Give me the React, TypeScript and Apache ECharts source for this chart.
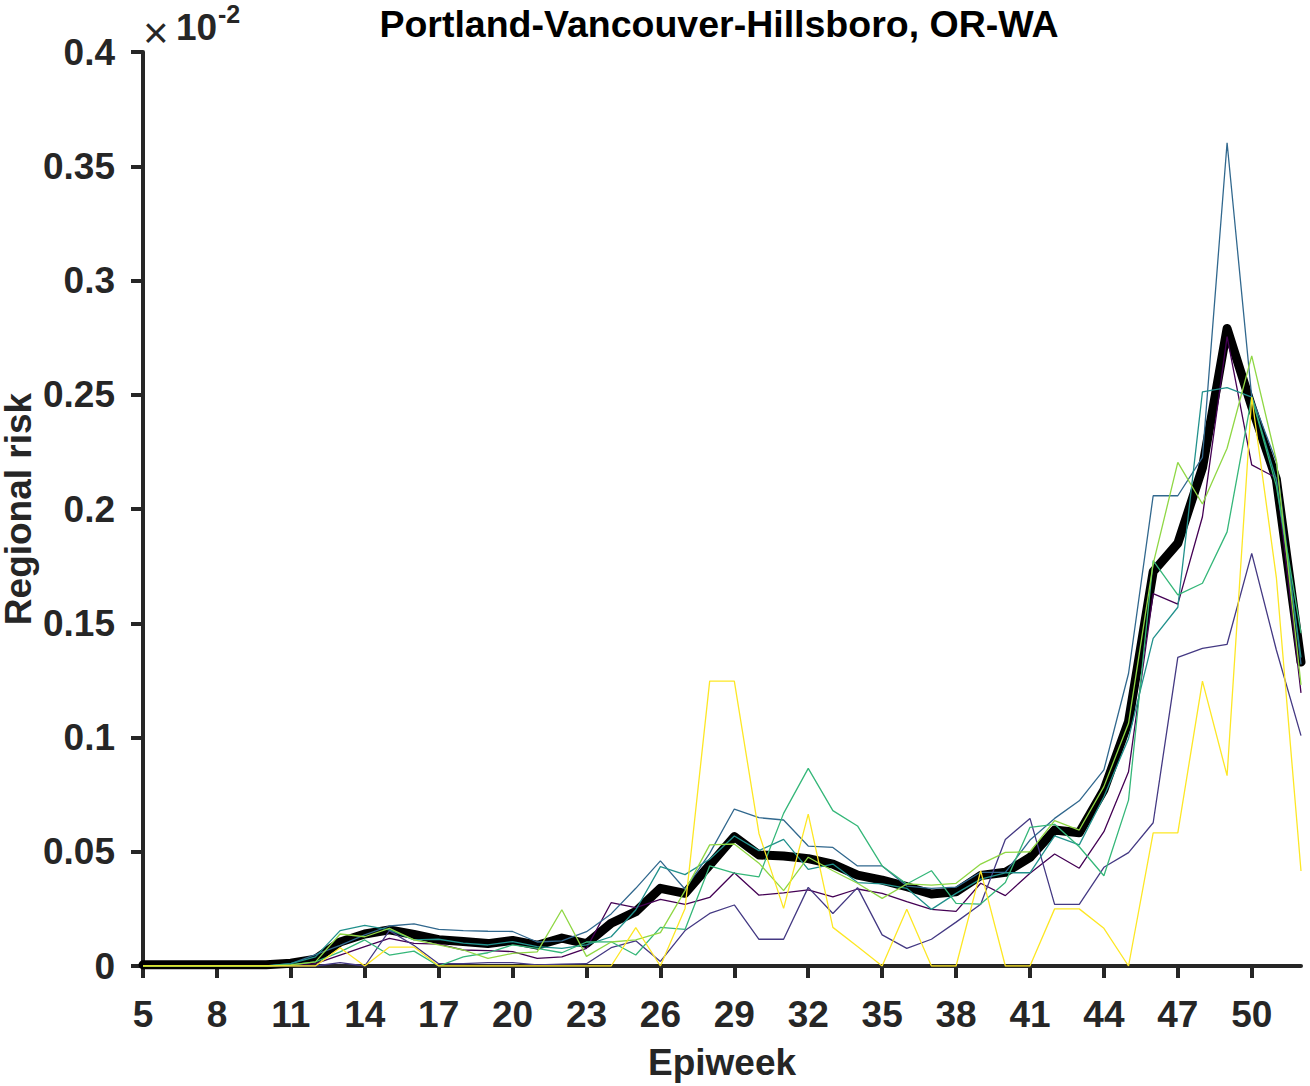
import React, { useEffect, useRef } from "react";
import * as echarts from "echarts";

const weeks: string[] = [];
for (let w = 5; w <= 52; w++) weeks.push(String(w));

const meanRisk = [
  0.0005, 0.0005, 0.0005, 0.0005, 0.0005, 0.0005, 0.0012, 0.003, 0.0105, 0.014,
  0.0158, 0.0138, 0.0115, 0.0107, 0.0098, 0.0112, 0.0091, 0.0122, 0.0098, 0.0187,
  0.0238, 0.034, 0.0318, 0.0442, 0.0566, 0.0486, 0.0481, 0.047, 0.0446, 0.0398,
  0.0376, 0.0347, 0.0315, 0.0325, 0.0396, 0.041, 0.0475, 0.0595, 0.0583, 0.077,
  0.107, 0.1726, 0.185, 0.218, 0.279, 0.2448, 0.213, 0.133,
];

const run1 = [
  0, 0, 0, 0, 0, 0, 0.0005, 0.001, 0.0048, 0.0085,
  0.0121, 0.0099, 0.0096, 0.007, 0.0067, 0.0063, 0.0033, 0.004, 0.0077, 0.0277,
  0.0255, 0.0292, 0.027, 0.03, 0.0408, 0.031, 0.032, 0.0333, 0.0303, 0.0337,
  0.0318, 0.0282, 0.0248, 0.0239, 0.0362, 0.0308, 0.0406, 0.049, 0.0428, 0.0588,
  0.085, 0.163, 0.1584, 0.1966, 0.2754, 0.2193, 0.2136, 0.1195,
];

const run2 = [
  0, 0, 0, 0, 0, 0, 0, 0, 0.0015, 0,
  0.0155, 0.009, 0.001, 0.001, 0.0015, 0.0015, 0.0005, 0.0008, 0.001, 0.008,
  0.011, 0.002, 0.0155, 0.023, 0.0267, 0.0117, 0.0117, 0.0344, 0.023, 0.0343,
  0.0136, 0.0077, 0.0117, 0.0192, 0.027, 0.0554, 0.0646, 0.027, 0.027, 0.0432,
  0.0496, 0.0627, 0.1351, 0.139, 0.1408, 0.1806, 0.1383, 0.1008,
];

const run3 = [
  0, 0, 0, 0, 0, 0, 0.001, 0.005, 0.009, 0.0136,
  0.0175, 0.0184, 0.016, 0.0155, 0.0152, 0.0151, 0.0105, 0.011, 0.015, 0.0228,
  0.034, 0.046, 0.0336, 0.0493, 0.0687, 0.0649, 0.0639, 0.0525, 0.0519, 0.0438,
  0.0438, 0.035, 0.034, 0.0345, 0.041, 0.041, 0.0551, 0.0646, 0.0723, 0.0858,
  0.128, 0.2058, 0.2058, 0.2226, 0.3603, 0.249, 0.2207, 0.132,
];

const run4 = [
  0, 0, 0, 0, 0, 0, 0.001, 0.004, 0.0155, 0.0178,
  0.0158, 0.0114, 0.0117, 0.01, 0.0092, 0.0107, 0.0085, 0.0077, 0.0092, 0.0128,
  0.0245, 0.0435, 0.04, 0.0467, 0.0569, 0.0505, 0.0554, 0.0423, 0.0446, 0.0365,
  0.0359, 0.034, 0.0248, 0.0318, 0.038, 0.0408, 0.0408, 0.0569, 0.053, 0.0741,
  0.0996, 0.1434, 0.157, 0.2513, 0.2531, 0.249, 0.2127, 0.135,
];

const run5 = [
  0, 0, 0, 0, 0, 0, 0.0005, 0.0018, 0.0062, 0.0114,
  0.0048, 0.0065, 0, 0.004, 0.0058, 0.0092, 0.0077, 0.0058, 0.0105, 0.0106,
  0.0048, 0.0169, 0.016, 0.0438, 0.0406, 0.039, 0.0668, 0.0865, 0.068, 0.0613,
  0.0438, 0.0359, 0.0417, 0.0274, 0.0271, 0.0365, 0.0607, 0.062, 0.0522, 0.0395,
  0.0726, 0.1774, 0.1624, 0.1675, 0.19, 0.249, 0.21, 0.1457,
];

const run6 = [
  0, 0, 0, 0, 0, 0, 0.0005, 0.0018, 0.014, 0.0128,
  0.0165, 0.0114, 0.0092, 0.007, 0.0033, 0.0055, 0.0062, 0.0246, 0.0042, 0.0105,
  0.0114, 0.0146, 0.033, 0.053, 0.0534, 0.045, 0.033, 0.0476, 0.0417, 0.0362,
  0.0296, 0.0359, 0.0354, 0.0362, 0.0446, 0.0497, 0.05, 0.0636, 0.0595, 0.0785,
  0.1062, 0.176, 0.2204, 0.2022, 0.2266, 0.267, 0.2214, 0.123,
];

const run7 = [
  0, 0, 0, 0, 0, 0, 0, 0, 0.008, 0,
  0.0083, 0.0083, 0, 0, 0, 0, 0, 0, 0, 0,
  0.0168, 0, 0.0252, 0.1247, 0.1247, 0.058, 0.0252, 0.0665, 0.0169, 0.0085,
  0, 0.0248, 0, 0, 0.0416, 0, 0, 0.025, 0.025, 0.0165,
  0, 0.0583, 0.0583, 0.1247, 0.0833, 0.249, 0.17, 0.0416,
];

const runs = [run1, run2, run3, run4, run5, run6, run7];
const runColors = ["#440154", "#443983", "#31688e", "#21918c", "#35b779", "#8fd744", "#fde725"];

const titleText = "Portland-Vancouver-Hillsboro, OR-WA";
const xName = "Epiweek";
const yName = "Regional risk";

const FONT = "'Liberation Sans', Arial, Helvetica, sans-serif";
const AX = "#262626";
const FS = 37;

export default function App() {
  const ref = useRef<HTMLDivElement>(null);
  useEffect(() => {
    document.body.style.margin = "0";
    if (!ref.current) return;
    const chart = echarts.init(ref.current, null, { renderer: "svg" });
    const series: any[] = [
      {
        type: "line",
        data: meanRisk,
        symbol: "none",
        z: 2,
        lineStyle: { color: "#000", width: 9, join: "round", cap: "round" },
      },
    ];
    runs.forEach((r, i) => {
      series.push({
        type: "line",
        data: r,
        symbol: "none",
        z: 3,
        lineStyle: { color: runColors[i], width: 1.3 },
      });
    });
    chart.setOption({
      animation: false,
      backgroundColor: "#ffffff",
      grid: {
        left: 143,
        right: 9,
        top: 52,
        bottom: 120,
        containLabel: false,
        outerBoundsMode: "none",
      },
      xAxis: {
        type: "category",
        data: weeks,
        boundaryGap: false,
        axisLine: { show: true, lineStyle: { color: AX, width: 4 } },
        axisTick: { show: true, interval: 2, length: 12, inside: false, lineStyle: { color: AX, width: 4 } },
        axisLabel: {
          interval: 2,
          fontSize: FS,
          fontWeight: "bold",
          fontFamily: FONT,
          color: AX,
          margin: 30,
        },
        splitLine: { show: false },
        name: xName,
        nameLocation: "middle",
        nameGap: 78,
        nameMoveOverlap: false,
        nameTextStyle: { fontSize: FS, fontWeight: "bold", fontFamily: FONT, color: AX },
      },
      yAxis: {
        type: "value",
        min: 0,
        max: 0.4,
        interval: 0.05,
        axisLine: { show: true, lineStyle: { color: AX, width: 4 } },
        axisTick: { show: true, length: 12, inside: false, lineStyle: { color: AX, width: 4 } },
        axisLabel: {
          fontSize: FS,
          fontWeight: "bold",
          fontFamily: FONT,
          color: AX,
          margin: 28,
        },
        splitLine: { show: false },
        name: yName,
        nameLocation: "middle",
        nameGap: 110,
        nameRotate: 90,
        nameMoveOverlap: false,
        nameTextStyle: { fontSize: FS, lineHeight: 30, fontWeight: "bold", fontFamily: FONT, color: AX },
      },
      graphic: [
        {
          type: "text",
          x: 719,
          y: 24,
          style: {
            text: titleText,
            font: `bold 37.5px ${FONT}`,
            fill: "#000",
            textAlign: "center",
            textVerticalAlign: "middle",
          },
        },
        {
          type: "text",
          x: 143,
          y: 32,
          style: { text: "×", font: `normal 44px ${FONT}`, fill: AX, textAlign: "left", textVerticalAlign: "middle" },
        },
        {
          type: "text",
          x: 176,
          y: 27,
          style: { text: "10", font: `bold ${FS}px ${FONT}`, fill: AX, textAlign: "left", textVerticalAlign: "middle" },
        },
        {
          type: "text",
          x: 218,
          y: 14,
          style: { text: "-2", font: `bold 25px ${FONT}`, fill: AX, textAlign: "left", textVerticalAlign: "middle" },
        },
      ],
      series,
    });
    return () => chart.dispose();
  }, []);
  return <div ref={ref} style={{ width: 1310, height: 1086 }} />;
}
